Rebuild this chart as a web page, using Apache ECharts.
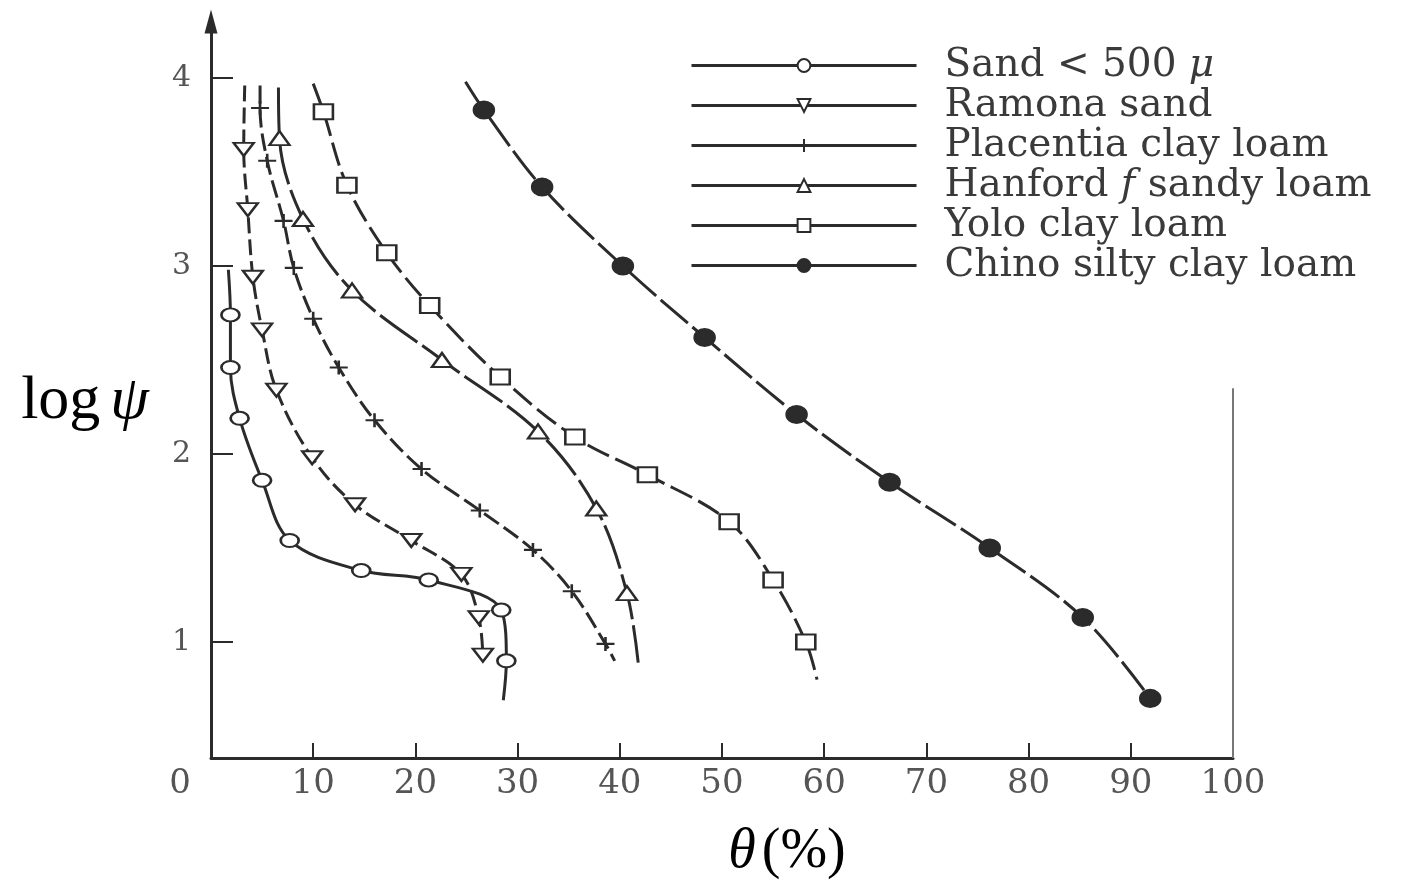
<!DOCTYPE html>
<html>
<head>
<meta charset="utf-8">
<script src="https://cdn.jsdelivr.net/npm/echarts@6/dist/echarts.min.js"></script>
<style>
  html, body { margin: 0; padding: 0; background: #ffffff; }
  #chart { width: 1416px; height: 890px; }
</style>
</head>
<body>
<div id="chart"></div>
<script>
// Soil-water retention curves: log ψ against volumetric water content θ (%)
const seriesNames = ['Sand < 500 μ', 'Ramona sand', 'Placentia clay loam',
                     'Hanford f sandy loam', 'Yolo clay loam', 'Chino silty clay loam'];

// measured points [θ %, log ψ], in order along each curve
const sandPoints = [[1.9, 2.74], [1.9, 2.46], [2.8, 2.19], [5.0, 1.86], [7.7, 1.54],
                    [14.7, 1.38], [21.3, 1.33], [28.4, 1.17], [28.9, 0.90]];
const ramonaPoints = [[3.2, 3.62], [3.6, 3.30], [4.1, 2.94], [5.0, 2.66], [6.4, 2.34],
                      [9.9, 1.98], [14.1, 1.73], [19.6, 1.54], [24.5, 1.36],
                      [26.2, 1.13], [26.6, 0.93]];
const placentiaPoints = [[4.8, 3.84], [5.5, 3.56], [7.1, 3.24], [8.1, 2.99], [10.0, 2.72],
                         [12.5, 2.46], [16.0, 2.18], [20.6, 1.92], [26.3, 1.70],
                         [31.5, 1.49], [35.3, 1.27], [38.6, 0.99]];
const hanfordPoints = [[6.7, 3.68], [9.0, 3.25], [13.8, 2.87], [22.6, 2.50], [32.0, 2.12],
                       [37.7, 1.71], [40.7, 1.26]];
const yoloPoints = [[11.0, 3.82], [13.3, 3.43], [17.2, 3.07], [21.4, 2.79], [28.3, 2.41],
                    [35.6, 2.09], [42.7, 1.89], [50.7, 1.64], [55.0, 1.33], [58.2, 1.00]];
const chinoPoints = [[26.7, 3.83], [32.4, 3.42], [40.3, 3.00], [48.3, 2.62], [57.3, 2.21],
                     [66.4, 1.85], [76.2, 1.50], [85.3, 1.13], [91.9, 0.70]];

// where each drawn curve begins and ends beyond its markers (null = ends at a marker)
const sandEnds = [[1.7, 2.98], [28.6, 0.69]];
const ramonaEnds = [[3.3, 3.96], null];
const placentiaEnds = [[4.8, 3.96], [39.5, 0.90]];
const hanfordEnds = [[6.6, 3.95], [41.8, 0.89]];
const yoloEnds = [[10.0, 3.97], [59.3, 0.80]];
const chinoEnds = [[24.9, 3.98], null];

// axis ranges and tick labels
const xTicks = [0, 10, 20, 30, 40, 50, 60, 70, 80, 90, 100];
const xTickMarks = [10, 20, 30, 40, 50, 60, 70, 80, 90];
const yTicks = [1, 2, 3, 4];
const xRange = [0, 100];
const yRange = [0.383, 4.30];
// right-hand frame edge, drawn only over the lower part of the plot
const frameEdge = [[100, 0.383], [100, 2.35]];

const ink = '#2b2b2b';
const labelGrey = '#555555';
const legendGrey = '#3a3a3a';

function buildData(points, ends) {
  const data = points.map(p => ({ value: p }));
  if (ends[0]) data.unshift({ value: ends[0], symbol: 'none' });
  if (ends[1]) data.push({ value: ends[1], symbol: 'none' });
  return data;
}

const styles = [
  { pts: sandPoints, ends: sandEnds, symbol: 'circle', size: [18, 13], dash: 'solid', fill: '#ffffff' },
  { pts: ramonaPoints, ends: ramonaEnds, symbol: 'triangle', rotate: 180, size: [20, 13], dash: [16, 6], fill: '#ffffff' },
  { pts: placentiaPoints, ends: placentiaEnds, symbol: 'path://M0,7 L18,7 M9,0 L9,14', size: [18, 14], dash: [18, 6], fill: '#ffffff' },
  { pts: hanfordPoints, ends: hanfordEnds, symbol: 'triangle', size: [20, 14], dash: [46, 6], fill: '#ffffff' },
  { pts: yoloPoints, ends: yoloEnds, symbol: 'rect', size: [19, 15], dash: [24, 7], fill: '#ffffff' },
  { pts: chinoPoints, ends: chinoEnds, symbol: 'circle', size: [20, 17], dash: [36, 6], fill: ink }
];

const series = styles.map((s, i) => ({
  name: seriesNames[i],
  type: 'line',
  data: buildData(s.pts, s.ends),
  smooth: 0.35,
  symbol: s.symbol,
  symbolSize: s.size,
  symbolRotate: s.rotate || 0,
  showAllSymbol: true,
  lineStyle: { color: ink, width: 3, type: s.dash },
  itemStyle: { color: s.fill, borderColor: ink, borderWidth: 2.3 },
  emphasis: { disabled: true },
  z: 3
}));

series.push({
  name: 'frame',
  type: 'line',
  data: frameEdge,
  symbol: 'none',
  silent: true,
  lineStyle: { color: '#777777', width: 2, type: 'solid' },
  emphasis: { disabled: true },
  z: 1
});

const chart = echarts.init(document.getElementById('chart'), null, { renderer: 'canvas' });

const legendFont = 39;

chart.setOption({
  backgroundColor: '#ffffff',
  animation: false,
  grid: { left: 211, right: 183, top: 21.6, bottom: 132 },
  legend: {
    data: seriesNames,
    orient: 'vertical',
    left: 690,
    top: 46,
    padding: 0,
    itemWidth: 225,
    itemHeight: 16,
    itemGap: 1,
    selectedMode: false,
    lineStyle: { type: 'solid', width: 3 },
    formatter: name => '{gap| }' + name.split(' ')
      .map(w => (w === 'f' || w === 'μ') ? '{i|' + w + '}' : '{t|' + w + '}')
      .join('{t| }'),
    textStyle: {
      rich: {
        gap: { width: 23, fontSize: legendFont },
        t: { fontFamily: 'DejaVu Serif', fontSize: legendFont, color: legendGrey },
        i: { fontFamily: 'DejaVu Serif', fontStyle: 'italic', fontSize: legendFont, color: legendGrey }
      }
    }
  },
  xAxis: {
    type: 'value',
    min: xRange[0],
    max: xRange[1],
    name: '{t|θ}{p|(%)}',
    nameLocation: 'middle',
    nameGap: 94,
    nameTextStyle: {
      align: 'center',
      verticalAlign: 'middle',
      padding: [0, 0, 0, 130],
      rich: {
        t: { fontFamily: 'Liberation Serif', fontStyle: 'italic', fontSize: 56, color: '#000', padding: [0, 6, 0, 0] },
        p: { fontFamily: 'Liberation Serif', fontSize: 56, color: '#000' }
      }
    },
    axisLine: { show: true, onZero: false, lineStyle: { color: ink, width: 3 } },
    axisTick: { show: true, inside: true, length: 15, customValues: xTickMarks, lineStyle: { color: ink, width: 2 } },
    axisLabel: {
      customValues: xTicks,
      margin: 9,
      fontFamily: 'DejaVu Serif',
      fontSize: 34,
      color: labelGrey,
      formatter: v => v === 0 ? '{z|0}' : String(v),
      rich: {
        z: { fontFamily: 'DejaVu Serif', fontSize: 34, color: labelGrey, padding: [0, 62, 0, 0] }
      }
    },
    splitLine: { show: false }
  },
  yAxis: {
    type: 'value',
    min: yRange[0],
    max: yRange[1],
    name: '{a|log}{b|ψ}',
    nameLocation: 'middle',
    nameRotate: 0,
    nameGap: 126,
    nameTextStyle: {
      align: 'center',
      verticalAlign: 'middle',
      padding: [24, 0, 0, 0],
      rich: {
        a: { fontFamily: 'Liberation Serif', fontSize: 62, color: '#000' },
        b: { fontFamily: 'Liberation Serif', fontStyle: 'italic', fontSize: 62, color: '#000', padding: [0, 0, 0, 10] }
      }
    },
    axisLine: {
      show: true, onZero: false,
      symbol: ['none', 'triangle'],
      symbolSize: [13, 24],
      lineStyle: { color: ink, width: 3 }
    },
    axisTick: { show: true, inside: true, length: 22, customValues: yTicks, lineStyle: { color: ink, width: 2 } },
    axisLabel: {
      customValues: yTicks,
      margin: 20,
      fontFamily: 'DejaVu Serif',
      fontSize: 30,
      color: labelGrey
    },
    splitLine: { show: false }
  },
  series: series
});
</script>
</body>
</html>
